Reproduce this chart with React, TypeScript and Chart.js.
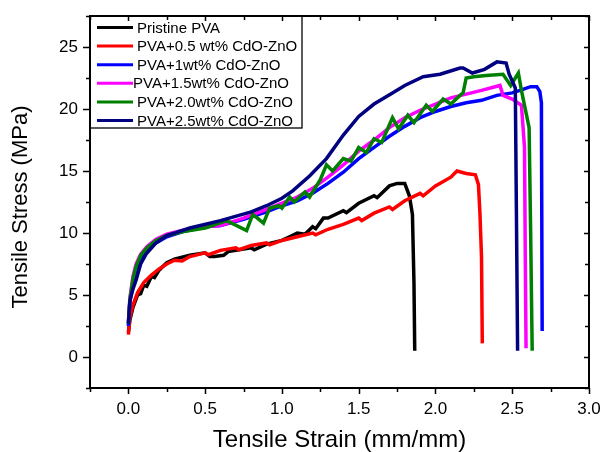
import React, { useEffect, useRef } from "react";
import { Chart, registerables } from "chart.js";

Chart.register(...registerables);

const seriesLabels = [
  "Pristine PVA",
  "PVA+0.5 wt% CdO-ZnO",
  "PVA+1wt% CdO-ZnO",
  "PVA+1.5wt% CdO-ZnO",
  "PVA+2.0wt% CdO-ZnO",
  "PVA+2.5wt% CdO-ZnO",
];
const seriesColors = ["#000000", "#ff0000", "#0000ff", "#ff00ff", "#008000", "#000080"];
const seriesOrder = [5, 4, 3, 2, 1, 0];

const pristineX = [0, 0.01, 0.03, 0.06, 0.08, 0.1, 0.12, 0.15, 0.17, 0.2, 0.25, 0.3, 0.4, 0.5, 0.53, 0.56, 0.62, 0.65, 0.7, 0.8, 0.82, 0.9, 1.0, 1.05, 1.1, 1.15, 1.2, 1.22, 1.27, 1.3, 1.4, 1.42, 1.5, 1.6, 1.62, 1.7, 1.75, 1.8, 1.83, 1.85, 1.86, 1.865];
const pristineY = [2.0, 3.0, 4.0, 5.0, 5.1, 5.8, 5.7, 6.5, 6.4, 7.0, 7.6, 7.9, 8.2, 8.4, 8.1, 8.1, 8.2, 8.5, 8.6, 8.8, 8.65, 9.1, 9.4, 9.7, 10.0, 9.9, 10.5, 10.35, 11.2, 11.2, 11.8, 11.65, 12.4, 13.0, 12.85, 13.8, 14.0, 14.0, 13.0, 11.5, 6.0, 0.5];

const pva05X = [0, 0.01, 0.03, 0.06, 0.1, 0.15, 0.2, 0.25, 0.3, 0.35, 0.4, 0.5, 0.52, 0.6, 0.7, 0.72, 0.8, 0.9, 0.92, 1.0, 1.1, 1.2, 1.22, 1.3, 1.4, 1.5, 1.52, 1.6, 1.7, 1.72, 1.8, 1.9, 1.92, 2.0, 2.1, 2.14, 2.2, 2.26, 2.28, 2.29, 2.3, 2.305];
const pva05Y = [1.8, 3.2, 4.2, 5.2, 6.0, 6.6, 7.1, 7.5, 7.8, 7.75, 8.1, 8.4, 8.25, 8.6, 8.8, 8.65, 9.0, 9.2, 9.05, 9.4, 9.7, 10.0, 9.85, 10.3, 10.7, 11.2, 11.0, 11.6, 12.1, 11.9, 12.6, 13.2, 13.0, 13.8, 14.5, 15.0, 14.8, 14.7, 13.9, 11.5, 8.0, 1.1];

const pva1X = [0, 0.01, 0.03, 0.05, 0.08, 0.12, 0.18, 0.25, 0.35, 0.5, 0.6, 0.75, 0.9, 1.0, 1.1, 1.2, 1.3, 1.4, 1.5, 1.6, 1.7, 1.8, 1.9, 2.0, 2.1, 2.2, 2.3, 2.4, 2.5, 2.55, 2.62, 2.66, 2.68, 2.69, 2.695];
const pva1Y = [2.5, 4.5, 6.0, 7.0, 7.9, 8.6, 9.2, 9.7, 10.1, 10.5, 10.6, 11.1, 11.7, 12.2, 12.6, 13.2, 14.0, 14.9, 16.0, 16.9, 17.8, 18.6, 19.3, 19.8, 20.2, 20.5, 20.7, 21.1, 21.3, 21.5, 21.8, 21.8, 21.4, 20.5, 2.1];

const pva15X = [0, 0.01, 0.03, 0.05, 0.08, 0.12, 0.18, 0.25, 0.35, 0.5, 0.6, 0.75, 0.9, 1.0, 1.1, 1.2, 1.3, 1.4, 1.5, 1.6, 1.7, 1.8, 1.9, 2.0, 2.1, 2.2, 2.3, 2.42, 2.44, 2.5, 2.56, 2.58, 2.585, 2.59];
const pva15Y = [2.8, 4.8, 6.5, 7.5, 8.3, 8.9, 9.5, 9.9, 10.2, 10.5, 10.6, 11.2, 11.9, 12.4, 12.9, 13.6, 14.5, 15.5, 16.6, 17.5, 18.5, 19.3, 19.9, 20.4, 20.9, 21.2, 21.5, 21.9, 21.1, 20.8, 20.3, 16.9, 8.0, 0.7];

const pva20X = [0, 0.01, 0.03, 0.05, 0.08, 0.12, 0.18, 0.25, 0.35, 0.5, 0.64, 0.77, 0.81, 0.88, 0.92, 0.98, 1.0, 1.05, 1.08, 1.15, 1.18, 1.25, 1.29, 1.33, 1.4, 1.45, 1.5, 1.55, 1.6, 1.65, 1.72, 1.76, 1.82, 1.86, 1.94, 1.98, 2.05, 2.1, 2.16, 2.18, 2.2, 2.25, 2.33, 2.44, 2.49, 2.54, 2.56, 2.58, 2.61, 2.62, 2.63];
const pva20Y = [2.7, 4.6, 6.3, 7.3, 8.2, 8.8, 9.4, 9.8, 10.1, 10.4, 11.0, 10.2, 11.5, 10.8, 12.0, 12.2, 12.0, 12.9, 12.5, 13.3, 12.9, 14.3, 15.5, 15.0, 16.0, 15.8, 16.9, 16.5, 17.6, 17.3, 19.3, 18.4, 19.5, 18.9, 20.3, 19.8, 20.8, 20.4, 21.1, 21.3, 22.5, 22.6, 22.7, 22.8, 21.9, 22.9, 21.5, 20.3, 18.5, 10.0, 0.5];

const pva25X = [0, 0.01, 0.03, 0.05, 0.08, 0.115, 0.18, 0.25, 0.4, 0.6, 0.8, 0.9, 1.0, 1.07, 1.18, 1.29, 1.4, 1.5, 1.6, 1.72, 1.8, 1.92, 2.03, 2.16, 2.18, 2.24, 2.32, 2.4, 2.46, 2.48, 2.52, 2.527, 2.535];
const pva25Y = [2.7, 4.5, 5.5, 6.2, 7.5, 8.3, 9.2, 9.8, 10.4, 11.0, 11.7, 12.2, 12.8, 13.4, 14.6, 16.0, 17.9, 19.4, 20.4, 21.3, 21.9, 22.6, 22.8, 23.3, 23.3, 22.9, 23.2, 23.8, 23.7, 22.8, 21.7, 12.0, 0.5];

const seriesX = [pristineX, pva05X, pva1X, pva15X, pva20X, pva25X];
const seriesY = [pristineY, pva05Y, pva1Y, pva15Y, pva20Y, pva25Y];

const xTitle = "Tensile Strain (mm/mm)";
const yTitle = "Tensile Stress (MPa)";
const xMin = -0.25, xMax = 3.0, xStep = 0.25;
const yMin = -2.5, yMax = 27.5, yStep = 2.5;

const FONT = "'Liberation Sans', Arial, sans-serif";

const isMult = (v: number, m: number) => Math.abs(Math.round(v / m) * m - v) < 1e-6;

const framePlugin = {
  id: "frame",
  afterDraw(chart: any) {
    const { ctx, chartArea: a, scales } = chart;
    const xs = scales.x, ys = scales.y;
    ctx.save();
    // legend
    const lx = a.left, ly = a.top, lw = 212, lh = 112;
    ctx.fillStyle = "#fff";
    ctx.fillRect(lx, ly, lw, lh);
    ctx.strokeStyle = "#000";
    ctx.lineWidth = 1.3;
    ctx.strokeRect(lx, ly, lw, lh);
    ctx.font = `15px ${FONT}`;
    ctx.textBaseline = "middle";
    ctx.textAlign = "left";
    for (let i = 0; i < seriesLabels.length; i++) {
      const yy = ly + 11.5 + i * 18.6;
      ctx.strokeStyle = seriesColors[i];
      ctx.lineWidth = 3;
      ctx.beginPath();
      ctx.moveTo(lx + 7, yy);
      ctx.lineTo(lx + 43, yy);
      ctx.stroke();
      ctx.fillStyle = "#000";
      ctx.fillText(seriesLabels[i], lx + (i === 3 ? 43 : 47), yy + 1);
    }
    // frame
    ctx.strokeStyle = "#000";
    ctx.lineWidth = 2;
    ctx.strokeRect(a.left, a.top, a.right - a.left, a.bottom - a.top);
    ctx.lineWidth = 1.5;
    ctx.beginPath();
    for (let v = xMin; v <= xMax + 1e-9; v += xStep) {
      const p = Math.round(xs.getPixelForValue(v)) + 0.5;
      const major = isMult(v, 0.5);
      ctx.moveTo(p, a.bottom);
      ctx.lineTo(p, a.bottom + (major ? 6 : 4));
      ctx.moveTo(p, a.top);
      ctx.lineTo(p, a.top + (major ? 5 : 4));
    }
    for (let v = yMin; v <= yMax + 1e-9; v += yStep) {
      const p = Math.round(ys.getPixelForValue(v)) + 0.5;
      const major = isMult(v, 5);
      ctx.moveTo(a.left, p);
      ctx.lineTo(a.left - (major ? 7 : 4), p);
      ctx.moveTo(a.right, p);
      ctx.lineTo(a.right - (major ? 5 : 4), p);
    }
    ctx.stroke();
    // titles
    ctx.fillStyle = "#000";
    ctx.font = `24px ${FONT}`;
    ctx.textBaseline = "alphabetic";
    ctx.textAlign = "center";
    ctx.fillText(xTitle, (a.left + a.right) / 2, 447);
    ctx.save();
    ctx.translate(27, 207);
    ctx.rotate(-Math.PI / 2);
    ctx.font = `22px ${FONT}`;
    ctx.fillText(yTitle, 0, 0);
    ctx.restore();
    ctx.restore();
  },
};

export default function App() {
  const ref = useRef<HTMLCanvasElement>(null);
  useEffect(() => {
    document.body.style.margin = "0";
    const datasets = seriesLabels.map((label, i) => ({
      label,
      data: seriesX[i].map((x, j) => ({ x, y: seriesY[i][j] })),
      borderColor: seriesColors[i],
      backgroundColor: seriesColors[i],
      borderWidth: 3.5,
      pointRadius: 0,
      tension: 0,
      fill: false,
      showLine: true,
      order: seriesOrder[i],
    }));
    const chart = new Chart(ref.current as HTMLCanvasElement, {
      type: "line",
      data: { datasets },
      plugins: [framePlugin],
      options: {
        responsive: false,
        animation: false,
        layout: { padding: { top: 16, right: 14, left: 0, bottom: 0 } },
        plugins: { legend: { display: false }, tooltip: { enabled: false } },
        scales: {
          x: {
            type: "linear",
            min: xMin,
            max: xMax,
            afterFit: (s: any) => { s.height = 64; s.paddingLeft = 0; s.paddingRight = 0; },
            grid: { display: false, drawTicks: false },
            border: { display: false },
            ticks: {
              stepSize: xStep,
              autoSkip: false,
              maxRotation: 0,
              padding: 11,
              color: "#000",
              font: { family: FONT, size: 17 },
              callback: (v: any) => (isMult(Number(v), 0.5) ? Number(v).toFixed(1) : ""),
            },
          },
          y: {
            type: "linear",
            min: yMin,
            max: yMax,
            afterFit: (s: any) => { s.width = 90; s.paddingTop = 0; s.paddingBottom = 0; },
            grid: { display: false, drawTicks: false },
            border: { display: false },
            ticks: {
              stepSize: yStep,
              autoSkip: false,
              padding: 12,
              color: "#000",
              font: { family: FONT, size: 17 },
              callback: (v: any) => (isMult(Number(v), 5) ? String(Math.round(Number(v))) : ""),
            },
          },
        },
      },
    });
    return () => chart.destroy();
  }, []);
  return (
    <div style={{ width: 603, height: 452 }}>
      <canvas ref={ref} width={603} height={452} style={{ display: "block" }} />
    </div>
  );
}
